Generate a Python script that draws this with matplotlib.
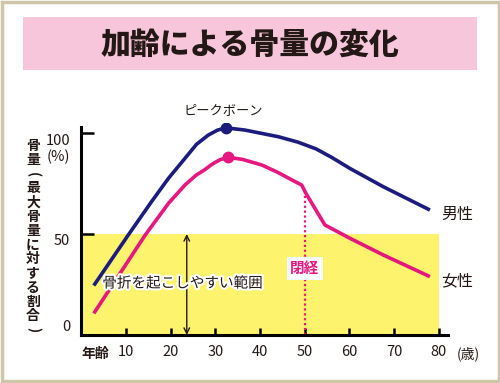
import matplotlib
matplotlib.use("Agg")
from matplotlib import pyplot as plt
from matplotlib import patheffects as pe
from matplotlib.patches import Rectangle

plt.rcParams['font.family'] = ['Noto Sans CJK JP', 'DejaVu Sans']

# data (age, bone mass %)
male_age = [2.8, 10.5, 15.7, 19.5, 23.2, 25.8, 28.4, 30.5, 32.4, 36.6, 40, 44.1, 48.5,
            52.5, 56, 60.1, 67.6, 78]
male_mass = [24.5, 49.5, 66, 77.6, 87.5, 94.5, 99, 101.5, 102.6, 101.5, 100, 98.2, 95.5,
             92.2, 88, 82.5, 73.4, 61.9]
female_age = [2.8, 14.3, 19.5, 23.2, 25.6, 27.7, 29.2, 31, 32.9, 36, 40.4, 44, 47.8,
              49.3, 50.3, 54.5, 60.1, 67.6, 78]
female_mass = [10.7, 49.5, 65.2, 74.3, 79, 82, 84.5, 86.8, 88, 87, 84.2, 80.5, 76,
               74.3, 70, 54.5, 47.9, 39.6, 28.9]
male_peak = (32.4, 102.6)
female_peak = (32.9, 88)
menopause_age = 50
menopause_mass = 71
risk_level = 50
x_ticks = [10, 20, 30, 40, 50, 60, 70, 80]
ylabel_text = '骨量(最大骨量に対する割合)'

navy = '#1c1c7e'
pink = '#e6177f'
ink = '#231815'

fig = plt.figure(figsize=(5, 3.83), dpi=100)
fig.patch.set_facecolor('white')

# outer frame and title band
fig.patches.append(Rectangle((0.003, 0.004), 0.994, 0.992, transform=fig.transFigure,
                             fill=False, edgecolor='#cfc6aa', linewidth=2.5))
fig.patches.append(Rectangle((23 / 500, 1 - 70 / 383), 454 / 500, 53 / 383,
                             transform=fig.transFigure, facecolor='#f7c6db', edgecolor='none'))
fig.text(0.5, 1 - 44 / 383, '加齢による骨量の変化', ha='center', va='center',
         fontsize=21.5, fontweight='heavy', color=ink)

ax = fig.add_axes([81.3 / 500, 48 / 383, 366.5 / 500, 212 / 383])
ax.set_xlim(0, 82)
ax.set_ylim(0, 105)

ax.fill_between([0, 80], 0, risk_level, color='#fdf36c', linewidth=0, zorder=0)

ax.plot(male_age, male_mass, color=navy, linewidth=2.6, solid_capstyle='butt',
        solid_joinstyle='round', zorder=3)
ax.plot(female_age, female_mass, color=pink, linewidth=2.6, solid_capstyle='butt',
        solid_joinstyle='round', zorder=3)
ax.plot(*male_peak, 'o', color=navy, markersize=7.5, zorder=4)
ax.plot(*female_peak, 'o', color=pink, markersize=7.5, zorder=4)

ax.plot([menopause_age, menopause_age], [0, menopause_mass], color=pink,
        linestyle=(0, (1, 1.2)), linewidth=1.6, zorder=2)

ax.annotate('', xy=(23.6, 0), xytext=(23.6, risk_level),
            arrowprops=dict(arrowstyle='<->', color=ink, lw=1.0,
                            shrinkA=0, shrinkB=0), zorder=2)

ax.text(4.7, 25.5, '骨折を起こしやすい範囲', fontsize=10.5, color=ink,
        ha='left', va='center', zorder=5,
        path_effects=[pe.withStroke(linewidth=3, foreground='white')])
ax.text(menopause_age, 33, '閉経', fontsize=10.5, fontweight='bold', color=pink,
        ha='center', va='center', zorder=5,
        bbox=dict(facecolor='white', edgecolor='none', pad=2.5))
ax.text(80.5, 59.5, '男性', fontsize=11.5, color=ink, ha='left', va='center')
ax.text(80.5, 27, '女性', fontsize=11.5, color=ink, ha='left', va='center')
ax.text(male_peak[0] - 0.6, 111, 'ピークボーン', fontsize=9.5, color=ink,
        ha='center', va='center', clip_on=False)

for s in ['top', 'right']:
    ax.spines[s].set_visible(False)
ax.spines['left'].set_linewidth(2.2)
ax.spines['bottom'].set_linewidth(2.2)
ax.spines['left'].set_bounds(0, 103)

ax.set_xticks(x_ticks)
ax.set_xticklabels([str(t) for t in x_ticks], fontsize=10.5, color=ink)
ax.tick_params(axis='x', direction='in', length=5, width=1.8, pad=7)
ax.set_yticks([50, 100])
ax.set_yticklabels([])
ax.tick_params(axis='y', direction='in', length=9, width=1.8)

# y tick labels placed by hand like the original
ax.text(-2.5, 96, '100', fontsize=10.5, ha='right', va='center', color=ink, clip_on=False)
ax.text(-2.5, 88, '(%)', fontsize=10.5, ha='right', va='center', color=ink, clip_on=False)
ax.text(-2.5, 46.5, '50', fontsize=10.5, ha='right', va='center', color=ink, clip_on=False)
ax.text(-2.5, 4, '0', fontsize=10.5, ha='right', va='center', color=ink, clip_on=False)

ax.text(3.1, -9.5, '年齢', fontsize=10, fontweight='bold', ha='center', va='center',
        color=ink, clip_on=False)
ax.text(86.5, -9.5, '(歳)', fontsize=10, ha='center', va='center', color=ink, clip_on=False)

# vertical y label, one character at a time (brackets turned like vertical writing)
y0 = 146
step = (330 - 146) / (len(ylabel_text) - 1)
for i, ch in enumerate(ylabel_text):
    rot = -90 if ch in '()' else 0
    fig.text(33 / 500, 1 - (y0 + i * step) / 383, ch, fontsize=10, fontweight='bold',
             ha='center', va='center', rotation=rot, color=ink)

fig.savefig('out.png', dpi=100)
